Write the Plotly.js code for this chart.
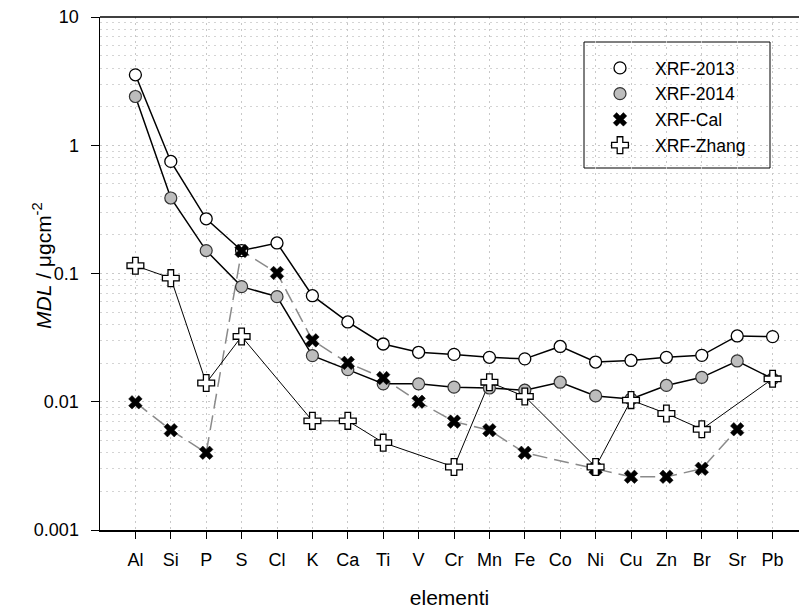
<!DOCTYPE html>
<html>
<head>
<meta charset="utf-8">
<script src="https://cdn.plot.ly/plotly-3.0.1.min.js"></script>
<style>html,body{margin:0;padding:0;background:#fff;}#chart{width:799px;height:612px;}</style>
</head>
<body>
<div id="chart"></div>
<script>
const elements = ["Al","Si","P","S","Cl","K","Ca","Ti","V","Cr","Mn","Fe","Co","Ni","Cu","Zn","Br","Sr","Pb"];
const xrf2013 = [3.54,0.748,0.267,0.151,0.173,0.0671,0.0419,0.0282,0.0243,0.0234,0.0222,0.0216,0.0270,0.0204,0.0210,0.0222,0.0230,0.0326,0.0322];
const xrf2014 = [2.40,0.388,0.151,0.079,0.066,0.0229,0.0178,0.0138,0.0138,0.0130,0.0128,0.0123,0.0142,0.0111,0.0105,0.0134,0.0155,0.0208,0.0151];
const xrfCal = [0.0099,0.0060,0.0040,0.150,0.101,0.0301,0.0201,0.0153,0.0100,0.0070,0.0060,0.0040,null,0.0030,0.0026,0.0026,0.0030,0.0061,null];
const xrfZhang = [0.115,0.092,0.0140,0.0323,null,0.0071,0.0071,0.0048,null,0.0031,0.0142,0.0110,null,0.0031,0.0103,0.0081,0.0061,null,0.0151];
const yTickVals = [0.001,0.01,0.1,1,10];
const yTickText = ["0.001","0.01","0.1","1","10"];

const xIdx = elements.map((_, i) => i);
const fam = "Liberation Sans, Arial, sans-serif";

const traces = [
  {x: xIdx, y: xrfCal, mode: "lines", connectgaps: true, showlegend: false, hoverinfo: "skip",
   line: {color: "#8a8a8a", width: 1.5, dash: "15px,7px"}},
  {x: xIdx, y: xrfZhang, mode: "lines", connectgaps: true, showlegend: false, hoverinfo: "skip",
   line: {color: "#000", width: 1}},
  {x: xIdx, y: xrf2014, mode: "lines", showlegend: false, hoverinfo: "skip",
   line: {color: "#000", width: 1.5}},
  {x: xIdx, y: xrf2013, mode: "lines", showlegend: false, hoverinfo: "skip",
   line: {color: "#000", width: 1.5}},
  {x: xIdx, y: xrf2013, mode: "markers", name: "XRF-2013",
   marker: {symbol: "circle", size: 12, color: "#fff", line: {color: "#000", width: 1.3}}},
  {x: xIdx, y: xrf2014, mode: "markers", name: "XRF-2014",
   marker: {symbol: "circle", size: 12, color: "#bdbdbd", line: {color: "#333", width: 1.2}}},
  {x: xIdx, y: xrfCal, mode: "markers", name: "XRF-Cal",
   marker: {symbol: "x", size: 12, color: "#000", line: {color: "#000", width: 0.5}}},
  {x: xIdx, y: xrfZhang, mode: "markers", name: "XRF-Zhang",
   marker: {symbol: "cross", size: 14, color: "#fff", line: {color: "#000", width: 1.3}}}
];

const plotL = 100, plotT = 17, plotB = 530, plotR = 799;
const pw = plotR - plotL, ph = plotB - plotT;
const px = v => (v - plotL) / pw;
const py = v => (plotB - v) / ph;

const layout = {
  width: 799, height: 612,
  margin: {l: plotL, r: 799 - plotR, t: plotT, b: 612 - plotB, pad: 0},
  paper_bgcolor: "#fff", plot_bgcolor: "#fff",
  font: {family: fam, color: "#000"},
  showlegend: true,
  legend: {
    x: px(585), y: py(50), xanchor: "left", yanchor: "top",
    bgcolor: "rgba(0,0,0,0)", borderwidth: 0,
    font: {family: fam, size: 17.5, color: "#000"},
    tracegroupgap: 0, itemwidth: 60
  },
  shapes: [
    {type: "rect", xref: "paper", yref: "paper", x0: px(584), x1: px(770), y0: py(168), y1: py(42),
     line: {color: "#000", width: 1}, fillcolor: "#fff", layer: "below"},
    {type: "line", xref: "paper", yref: "paper", x0: 0, x1: 1, y0: 1, y1: 1,
     line: {color: "#000", width: 1.5}}
  ],
  annotations: [
    {text: "<i>MDL</i> / μgcm<sup>-2</sup>", xref: "paper", yref: "paper", x: px(42), y: py(265),
     xanchor: "center", yanchor: "middle", textangle: -90, showarrow: false,
     font: {family: fam, size: 21, color: "#000"}}
  ],
  xaxis: {
    type: "linear", range: [-1, (pw / 35.4) - 1],
    tickmode: "array", tickvals: xIdx, ticktext: elements,
    ticks: "outside", ticklen: 7, tickwidth: 1, tickcolor: "#000",
    ticklabelstandoff: 6,
    showline: true, linecolor: "#000", linewidth: 1.5, mirror: false,
    showgrid: true, gridcolor: "#c8c8c8", griddash: "2px,4px", gridwidth: 1,
    zeroline: false,
    tickfont: {family: fam, size: 18, color: "#000"},
    title: {text: "elementi", font: {family: fam, size: 21, color: "#000"}, standoff: 21}
  },
  yaxis: {
    type: "log", range: [-3, 1],
    tickmode: "array", tickvals: yTickVals, ticktext: yTickText,
    ticks: "outside", ticklen: 8, tickwidth: 1, tickcolor: "#000",
    ticklabelstandoff: 8,
    showline: true, linecolor: "#000", linewidth: 1.5,
    showgrid: true, gridcolor: "#c8c8c8", griddash: "2px,4px", gridwidth: 1,
    minor: {showgrid: true, dtick: "D1", gridcolor: "#d4d4d4", griddash: "2px,4px", gridwidth: 1, ticks: ""},
    zeroline: false,
    tickfont: {family: fam, size: 18, color: "#000"}
  }
};

Plotly.newPlot("chart", traces, layout, {displayModeBar: false, staticPlot: true});
</script>
</body>
</html>
